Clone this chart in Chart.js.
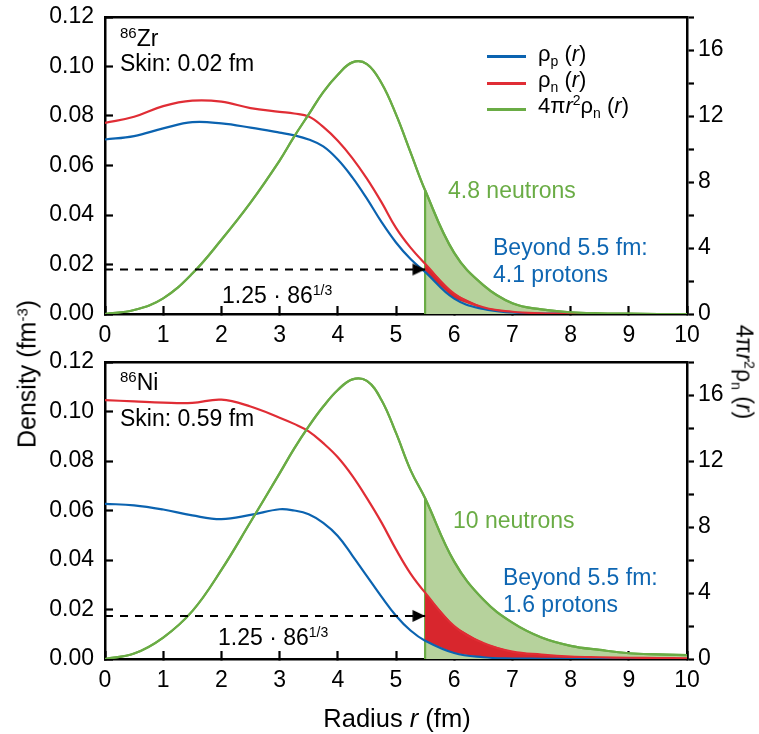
<!DOCTYPE html>
<html lang="en">
<head>
<meta charset="UTF-8">
<title>Proton and neutron densities of 86Zr and 86Ni</title>
<script src="https://cdn.jsdelivr.net/npm/chart.js@4.4.1/dist/chart.umd.min.js"></script>
<style>
    body { margin: 0; background: #fff; font-family: "Liberation Sans", Arial, sans-serif; }
    #wrap { position: relative; width: 759px; height: 734px; overflow: hidden; }
    canvas { position: absolute; left: 0; top: 0; }
    .t { position: absolute; font-size: 23px; line-height: 23px; white-space: nowrap; color: #000; }
    .t sup, .t sub { font-size: 14px; line-height: 0; vertical-align: 0; position: relative; }
    .t sup { top: -8px; }
    .t sub { top: 5px; }
    .green { color: #6aac45; }
    .blue { color: #0e66b2; }
    .key { position: absolute; left: 487px; width: 39px; height: 3px; }
    .rot { position: absolute; white-space: nowrap; font-size: 25px; line-height: 25px; }
</style>
</head>
<body>
<div id="wrap">
    <canvas id="zrChart" width="759" height="734"></canvas>
    <canvas id="niChart" width="759" height="734"></canvas>

    <!-- top panel text -->
    <div class="t" style="left:120px;top:27px"><sup style="font-size:15px">86</sup>Zr</div>
    <div class="t" style="left:120px;top:52px">Skin: 0.02 fm</div>
    <div class="t" style="left:222px;top:284px">1.25 · 86<sup>1/3</sup></div>
    <div class="t green" style="left:448px;top:179px">4.8 neutrons</div>
    <div class="t blue" style="left:493px;top:236px">Beyond 5.5 fm:</div>
    <div class="t blue" style="left:493px;top:263px">4.1 protons</div>

    <div class="key" style="top:55px;background:#0b63b0"></div>
    <div class="key" style="top:82px;background:#e02d35"></div>
    <div class="key" style="top:108px;background:#6aac45"></div>
    <div class="t" style="left:538px;top:42px;font-size:22px">ρ<sub>p</sub> (<i>r</i>)</div>
    <div class="t" style="left:538px;top:68px;font-size:22px">ρ<sub>n</sub> (<i>r</i>)</div>
    <div class="t" style="left:538px;top:94px;font-size:22px">4π<i>r</i><sup>2</sup>ρ<sub>n</sub> (<i>r</i>)</div>

    <!-- bottom panel text -->
    <div class="t" style="left:120px;top:371px"><sup style="font-size:15px">86</sup>Ni</div>
    <div class="t" style="left:120px;top:407px">Skin: 0.59 fm</div>
    <div class="t" style="left:218px;top:626px">1.25 · 86<sup>1/3</sup></div>
    <div class="t green" style="left:453px;top:509px">10 neutrons</div>
    <div class="t blue" style="left:503px;top:566px">Beyond 5.5 fm:</div>
    <div class="t blue" style="left:503px;top:593px">1.6 protons</div>

    <!-- axis titles -->
    <div class="t" style="left:397px;top:706px;font-size:25.5px;line-height:25px;transform:translateX(-50%)">Radius <i>r</i> (fm)</div>
    <div class="rot" style="left:27px;top:374px;transform:translate(-50%,-50%) rotate(-90deg)">Density (fm<sup style="font-size:15px;position:relative;top:-8px;vertical-align:0;line-height:0">-3</sup>)</div>
    <div class="rot" style="left:744px;top:372px;font-size:23px;transform:translate(-50%,-50%) rotate(90deg)">4π<i>r</i><sup style="font-size:14px;position:relative;top:-8px;vertical-align:0;line-height:0">2</sup>ρ<sub style="font-size:14px;position:relative;top:5px;vertical-align:0;line-height:0">n</sub> (<i>r</i>)</div>
</div>

<script>
    // radius grid (fm) shared by all curves
    const radius = [0, 0.5, 1, 1.5, 2, 2.5, 3, 3.25, 3.5, 3.75, 4, 4.25, 4.5, 4.75, 5, 5.25, 5.5, 6, 6.5, 7, 7.5, 8, 8.5, 9, 9.5, 10];

    // 86Zr
    const zrProton = [0.0705, 0.0719, 0.0750, 0.0775, 0.0770, 0.0753, 0.0733, 0.0722, 0.0705, 0.0677, 0.0624, 0.0552, 0.0466, 0.0372, 0.0289, 0.0222, 0.0170, 0.0062, 0.0020, 0.0006, 0.0002, 0.0001, 0, 0, 0, 0];
    const zrNeutron = [0.0772, 0.0797, 0.0840, 0.0862, 0.0858, 0.0832, 0.0817, 0.0810, 0.0798, 0.0756, 0.0700, 0.0630, 0.0547, 0.0452, 0.0348, 0.0268, 0.0203, 0.0082, 0.0027, 0.0009, 0.0003, 0.0001, 0, 0, 0, 0];
    const zrRadialNeutron = [0, 0.24, 0.95, 2.45, 4.5, 6.75, 9.3, 10.75, 12.1, 13.45, 14.5, 15.25, 15.15, 14.0, 12.1, 9.8, 7.5, 3.7, 1.75, 0.65, 0.28, 0.1, 0.04, 0.02, 0, 0];

    // 86Ni
    const niProton = [0.0627, 0.0621, 0.0604, 0.0580, 0.0565, 0.0582, 0.0605, 0.0600, 0.0585, 0.0550, 0.0497, 0.0418, 0.0335, 0.0252, 0.0175, 0.0115, 0.0074, 0.0024, 0.0007, 0.0002, 0.0001, 0, 0, 0, 0, 0];
    const niNeutron = [0.1046, 0.1041, 0.1036, 0.1035, 0.1048, 0.1020, 0.0975, 0.0950, 0.0920, 0.0872, 0.0815, 0.0740, 0.0650, 0.0552, 0.0443, 0.0345, 0.0268, 0.0133, 0.0065, 0.0030, 0.0018, 0.0010, 0.0007, 0.0005, 0.0004, 0.0003];
    const niRadialNeutron = [0, 0.33, 1.3, 2.9, 5.4, 8.3, 11.25, 12.75, 14.1, 15.3, 16.3, 16.95, 16.85, 15.7, 13.7, 11.45, 9.74, 5.9, 3.6, 2.2, 1.3, 0.8, 0.55, 0.35, 0.28, 0.24];

    // 1.25 * 86^(1/3) line and the cut radius
    const cutRadius = 5.5;
    const arrowLevels = [0.018, 0.0174];   // Zr, Ni

    const BLUE = '#0b63b0';
    const RED = '#e02d35';
    const RED_FILL = '#d8262d';
    const GREEN = '#6aac45';
    const GREEN_FILL = '#b6d29c';
    const NONE = 'rgba(0,0,0,0)';
    const FONT = { family: '"Liberation Sans", Arial, sans-serif', size: 23 };

    Chart.defaults.font.family = FONT.family;
    Chart.defaults.color = '#000';

    // arrow head as a point style: tip sits on the point itself
    function makeArrowHead() {
        const c = document.createElement('canvas');
        c.width = 26; c.height = 14;
        const g = c.getContext('2d');
        g.fillStyle = '#000';
        g.beginPath();
        g.moveTo(0.5, 1);
        g.lineTo(13, 7);
        g.lineTo(0.5, 13);
        g.closePath();
        g.fill();
        return c;
    }
    const arrowHead = makeArrowHead();

    const pts = (ys) => radius.map((r, i) => ({ x: r, y: ys[i] }));
    const tail = (ys) => pts(ys).filter(p => p.x >= cutRadius);
    const at = (ys, r) => ys[radius.indexOf(r)];

    // fixed axis sizes; drop the label overhang so the plot box sits where the padding puts it
    const fixVertical = (w) => (s) => { s.width = w; s.paddingTop = 0; s.paddingBottom = 0; };
    const fixHorizontal = (h) => (s) => { s.height = h; s.paddingLeft = 0; s.paddingRight = 0; };

    function makePanel(id, proton, neutron, radial, arrowLevel, padTop, padBottom) {
        const axisBorder = { color: '#000', width: 2.5 };
        new Chart(document.getElementById(id), {
            type: 'line',
            data: {
                datasets: [
                    // 4 pi r^2 rho_n, area shaded only beyond the cut
                    {
                        data: pts(radial), yAxisID: 'y2', borderColor: GREEN, borderWidth: 2.2, tension: 0.4,
                        fill: 'origin', backgroundColor: NONE, order: 7,
                        segment: { backgroundColor: (c) => (c.p0.parsed.x >= cutRadius ? GREEN_FILL : NONE) }
                    },
                    { data: pts(neutron), yAxisID: 'y', borderColor: RED, borderWidth: 2.2, tension: 0.4, order: 2 },
                    { data: pts(proton), yAxisID: 'y', borderColor: BLUE, borderWidth: 2.2, tension: 0.4, order: 3 },
                    // red band between neutron and proton beyond the cut
                    { data: tail(neutron), yAxisID: 'y', borderWidth: 0, borderColor: NONE, backgroundColor: RED_FILL, tension: 0, fill: '+1', order: 4 },
                    { data: tail(proton), yAxisID: 'y', borderWidth: 0, borderColor: NONE, tension: 0, fill: false, order: 5 },
                    // vertical edge at the cut
                    { data: [{ x: cutRadius, y: 0 }, { x: cutRadius, y: at(radial, cutRadius) }], yAxisID: 'y2', borderColor: GREEN, borderWidth: 2.2, tension: 0, order: 6 },
                    // green line again on top of the red band
                    { data: pts(radial), yAxisID: 'y2', borderColor: GREEN, borderWidth: 2.2, tension: 0.4, order: 1 },
                    // dashed arrow
                    {
                        data: [{ x: 0, y: arrowLevel }, { x: cutRadius, y: arrowLevel }], yAxisID: 'y',
                        borderColor: '#000', borderWidth: 2, borderDash: [8, 7], tension: 0,
                        pointRadius: [0, 7], pointStyle: arrowHead, order: 0
                    }
                ]
            },
            options: {
                responsive: false,
                animation: false,
                events: [],
                devicePixelRatio: 1,
                elements: { point: { radius: 0 } },
                layout: { padding: { top: padTop, bottom: padBottom, left: 0, right: 0 } },
                plugins: { legend: { display: false }, tooltip: { enabled: false } },
                scales: {
                    x: {
                        type: 'linear', position: 'bottom', min: 0, max: 10,
                        ticks: { stepSize: 1, font: FONT, color: '#000', padding: 16 },
                        grid: { drawOnChartArea: false, tickLength: -8, tickWidth: 2.2, tickColor: '#000' },
                        border: axisBorder,
                        afterFit: fixHorizontal(30)
                    },
                    xTop: {
                        type: 'linear', position: 'top', min: 0, max: 10,
                        ticks: { display: false },
                        grid: { drawOnChartArea: false, drawTicks: false },
                        border: axisBorder,
                        afterFit: fixHorizontal(0)
                    },
                    y: {
                        position: 'left', min: 0, max: 0.12,
                        ticks: { stepSize: 0.02, font: FONT, color: '#000', padding: 19, callback: (v) => v.toFixed(2) },
                        grid: { drawOnChartArea: false, tickLength: -8, tickWidth: 2.2, tickColor: '#000' },
                        border: axisBorder,
                        afterFit: fixVertical(105)
                    },
                    y2: {
                        position: 'right', min: 0, max: 18,
                        ticks: { stepSize: 2, font: FONT, color: '#000', padding: 4,
                                 callback: (v) => (v % 4 === 0 && v < 18 ? String(v) : '') },
                        grid: { drawOnChartArea: false, tickLength: 7, tickWidth: 2.2, tickColor: '#000' },
                        border: axisBorder,
                        afterFit: fixVertical(72)
                    }
                }
            }
        });
    }

    makePanel('zrChart', zrProton, zrNeutron, zrRadialNeutron, arrowLevels[0], 17, 390);
    makePanel('niChart', niProton, niNeutron, niRadialNeutron, arrowLevels[1], 362, 45);
</script>
</body>
</html>
